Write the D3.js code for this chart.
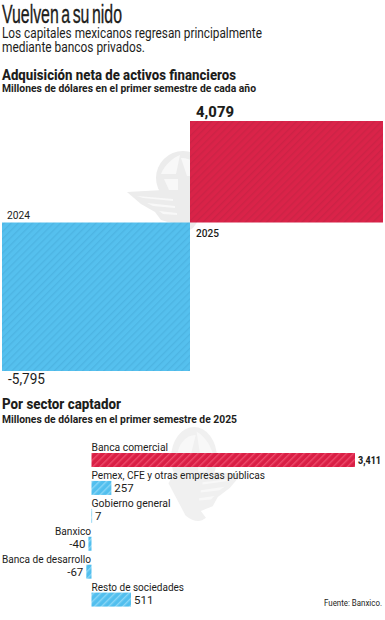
<!DOCTYPE html>
<html><head><meta charset="utf-8">
<script src="https://cdnjs.cloudflare.com/ajax/libs/d3/7.8.5/d3.min.js"></script>
<style>html,body{margin:0;padding:0;background:#fff}svg{display:block}text{font-family:Roboto,sans-serif;fill:#1d1d1b}</style>
</head><body><svg id="c" width="385" height="620"></svg>
<script>
const years=["2025","2024"];
const netValues=[4079,-5795];
const netLabels=["4,079","-5,795"];
const netWidths=[193,188];
const sectors=["Banca comercial","Pemex, CFE y otras empresas públicas","Gobierno general","Banxico","Banca de desarrollo","Resto de sociedades"];
const sectorValues=[3411,257,7,-40,-67,511];
const sectorLabels=["3,411","257","7","-40","-67","511"];
const RED="#d91f45",BLUE="#52bfee";
const svg=d3.select("#c");
const defs=svg.append("defs");
function hatch(id,bg,fg,n){
  const p=defs.append("pattern").attr("id",id).attr("patternUnits","userSpaceOnUse")
    .attr("width",n).attr("height",n).attr("patternTransform","rotate(45)");
  p.append("rect").attr("width",n).attr("height",n).attr("fill",bg);
  p.append("rect").attr("width",1.4).attr("height",n).attr("fill",fg);
}
hatch("hr",RED,"#cb1e42",5);hatch("hb",BLUE,"#49b3e2",5);
hatch("hr2",RED,"#ee4a6b",5);hatch("hb2",BLUE,"#8ad6f6",5);

function eagle(g,c){
  g.attr("fill",c).attr("stroke","none");
  g.append("circle").attr("r",27);
  g.append("path").attr("fill","#f8f8f8").attr("d","M-22,-4C-18,-14 -10,-20 -3,-23L-7,-4Z M-19,1L-5,1L-5,12L-14,12Z M-2,-20L4,-2L20,-2C18,-12 10,-20 -2,-20Z");
  g.append("path").attr("d","M-56,14L-20,12L24,14L30,22L10,50C0,56 -8,56 -14,52L-8,46L-22,42L-28,34L-42,26Z");
  g.append("path").attr("fill","#f8f8f8").attr("d","M-46,18L-10,21L-10,23L-40,20Z M-36,25L-8,28L-8,30L-30,28Z M-24,33L-6,35L-6,37L-20,36Z");
}
eagle(svg.append("g").attr("transform","translate(183,178)"),"#ececec");
eagle(svg.append("g").attr("transform","translate(194,458) scale(-.85,1.15)"),"#f0f0f0");

const y1=d3.scaleLinear().domain([-5795,0,4079]).range([371,222.5,121]);
const x1=d3.scaleLinear().domain([-188,0,193]).range([2,190,383]);
svg.append("g").selectAll("rect").data(netValues).join("rect")
  .attr("x",(d,i)=>d>0?x1(0):x1(-netWidths[i]))
  .attr("width",(d,i)=>d>0?x1(netWidths[i])-x1(0):x1(0)-x1(-netWidths[i]))
  .attr("y",d=>Math.min(y1(d),y1(0)))
  .attr("height",d=>Math.abs(y1(d)-y1(0)))
  .attr("fill",d=>d>0?"url(#hr)":"url(#hb)").attr("fill-opacity",.98);

const x2=d3.scaleLinear().domain([0,3411]).range([91.5,355]);
const y2=d3.scaleBand().domain(sectors).range([447.5,615]).paddingInner(0);
const bh=14;
svg.append("g").selectAll("rect").data(sectorValues).join("rect")
  .attr("x",d=>Math.min(x2(d),x2(0))).attr("width",d=>Math.max(Math.abs(x2(d)-x2(0)),.6))
  .attr("y",(d,i)=>y2(sectors[i])+5.5).attr("height",bh)
  .attr("fill",(d,i)=>i==0?"url(#hr2)":"url(#hb2)");

function t(x,y,s,size,w,len,anchor,fam){const e=svg.append("text").attr("x",x).attr("y",y).text(s)
  .attr("font-size",size).attr("font-weight",w||400).attr("text-anchor",anchor||"start");
  if(len)e.attr("textLength",len).attr("lengthAdjust","spacingAndGlyphs");
  if(fam)e.style("font-family",fam);return e;}
t(2,23,"Vuelven a su nido",26,400,120,"start","'Liberation Sans'").attr("word-spacing",-3).style("stroke","#1d1d1b").style("stroke-width",.35);
t(2,37.7,"Los capitales mexicanos regresan principalmente",14,400,260);
t(2,51.7,"mediante bancos privados.",14,400,143);
t(2,79.5,"Adquisición neta de activos financieros",14.6,800,234);
t(2,92,"Millones de dólares en el primer semestre de cada año",11,700,254);
t(196,116.7,netLabels[0],15.5,800,38);
t(8,384,netLabels[1],14.5,400,37);
t(7,219,years[1],11,400,23);
t(196,237,years[0],11,500,23);
t(2,409,"Por sector captador",14.6,800,119);
t(2,423,"Millones de dólares en el primer semestre de 2025",11,700,235);
const nameWidths=[76.5,173.5,79,36,89,92.5];
sectors.forEach((s,i)=>{
  const neg=sectorValues[i]<0;
  t(neg?91:91.5,y2(s)+3.5,s,11.4,400,nameWidths[i],neg?"end":"start");
  const v=sectorValues[i];
  const lx=neg?x2(v)-3:x2(v)+3;
  t(lx,y2(s)+16.8,sectorLabels[i],i==0?11:11.5,i==0?800:400,i==0?23:null,neg?"end":"start");
});
t(382,605.7,"Fuente: Banxico.",8.8,400,58,"end");
</script></body></html>
